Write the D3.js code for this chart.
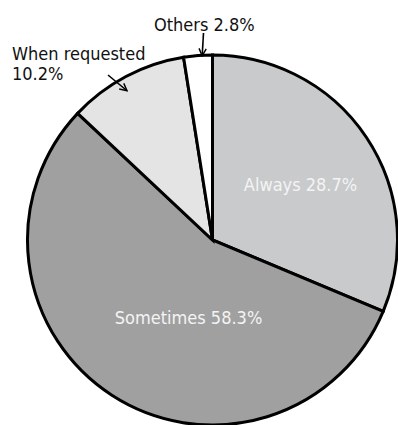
<!DOCTYPE html>
<meta charset="utf-8">
<style>
  body { margin: 0; background: #fff; }
  text { font-family: "DejaVu Sans Condensed", "Noto Sans", sans-serif; font-size: 18px; }
</style>
<script src="https://d3js.org/d3.v7.min.js"></script>
<div id="chart"></div>
<script>
// slices clockwise from 12 o'clock
const categories = ["Always", "Sometimes", "When requested", "Others"];
// slice sizes as drawn in the picture (%)
const shares = [31.3, 55.7, 10.5, 2.5];
// percentages printed on the labels
const printed = ["28.7%", "58.3%", "10.2%", "2.8%"];
const fills = ["#c9cacc", "#a0a0a0", "#e4e4e4", "#ffffff"];

const width = 398, height = 425;
const cx = 212.5, cy = 240, radius = 185;

const svg = d3.select("#chart")
  .append("svg")
  .attr("width", width)
  .attr("height", height);

svg.append("defs").append("marker")
  .attr("id", "head")
  .attr("viewBox", "0 0 10 10")
  .attr("refX", 9).attr("refY", 5)
  .attr("markerWidth", 9).attr("markerHeight", 9)
  .attr("markerUnits", "userSpaceOnUse")
  .attr("orient", "auto")
  .append("path")
  .attr("d", "M1,1 L9,5 L1,9")
  .attr("fill", "none")
  .attr("stroke", "#000")
  .attr("stroke-width", 1.6);

const g = svg.append("g").attr("transform", `translate(${cx},${cy})`);

const data = categories.map((c, i) => ({ cat: c, value: shares[i], label: printed[i], fill: fills[i] }));
const pie = d3.pie().sort(null).value(d => d.value);
const arcs = pie(data);
const arc = d3.arc().innerRadius(0).outerRadius(radius);

g.selectAll("path.slice")
  .data(arcs)
  .join("path")
  .attr("class", "slice")
  .attr("d", arc)
  .attr("fill", d => d.data.fill)
  .attr("stroke", "#000")
  .attr("stroke-width", 3)
  .attr("stroke-linejoin", "miter");

// inside labels (white)
const inner = [
  { i: 0, dx: 88, dy: -49 },
  { i: 1, dx: -24, dy: 84 }
];
g.selectAll("text.inside")
  .data(inner)
  .join("text")
  .attr("class", "inside")
  .attr("x", d => d.dx)
  .attr("y", d => d.dy)
  .attr("text-anchor", "middle")
  .attr("fill", "#f4f4f4")
  .text(d => categories[d.i] + " " + printed[d.i]);

// outside labels with arrows
svg.append("text")
  .attr("x", 154).attr("y", 31)
  .attr("fill", "#111")
  .text(categories[3] + " " + printed[3]);

const wr = svg.append("text").attr("fill", "#111");
wr.append("tspan").attr("x", 12).attr("y", 60).text(categories[2]);
wr.append("tspan").attr("x", 12).attr("y", 80).text(printed[2]);

// arrow tips sit on the pie, given as angle (deg) and radius
const arrows = [
  { from: [203.5, 33], ang: -3.2, r: radius - 0.5 },
  { from: [108, 75], ang: -29.8, r: 172 }
];
arrows.forEach(a => {
  const p = d3.pointRadial(a.ang * Math.PI / 180, a.r);
  svg.append("line")
    .attr("x1", a.from[0]).attr("y1", a.from[1])
    .attr("x2", cx + p[0]).attr("y2", cy + p[1])
    .attr("stroke", "#000")
    .attr("stroke-width", 1.6)
    .attr("marker-end", "url(#head)");
});
</script>
